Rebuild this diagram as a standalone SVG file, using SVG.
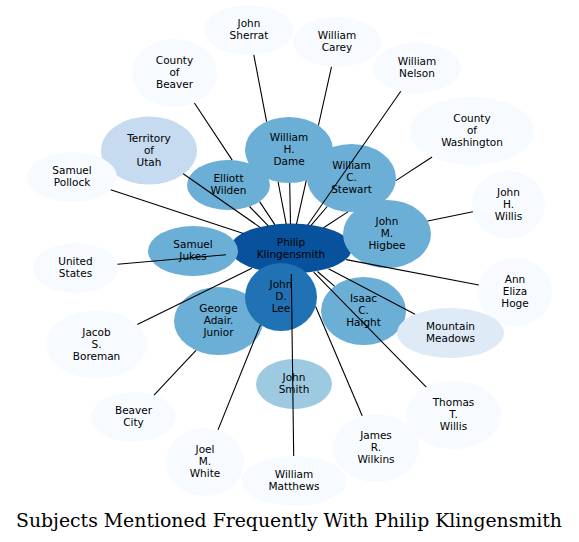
<svg xmlns="http://www.w3.org/2000/svg" width="579" height="542" viewBox="0 0 579 542">
<style>
text{font-family:"DejaVu Sans","Liberation Sans",sans-serif;font-size:10.5px;fill:#000;text-anchor:middle}
.c0{fill:#f7fbff}.c1{fill:#deebf7}.c2{fill:#c6dbef}.c3{fill:#9ecae1}.c4{fill:#6baed6}.c5{fill:#2171b5}.c6{fill:#08519c}
#edges path{fill:none;stroke:#000;stroke-width:1.1}
.title{font-family:"DejaVu Serif","Liberation Serif",serif;font-size:18.8px;text-anchor:start}
</style>
<rect width="579" height="542" fill="#fff"/>
<g id="nodes">
<g id="philip"><ellipse class="c6" cx="291" cy="248.5" rx="61" ry="25"/><text><tspan x="291" y="245.5">Philip</tspan><tspan x="291" y="257.5">Klingensmith</tspan></text></g>
<g id="john-sherrat"><ellipse class="c0" cx="249" cy="30" rx="45" ry="25"/><text><tspan x="249" y="27">John</tspan><tspan x="249" y="39">Sherrat</tspan></text></g>
<g id="william-carey"><ellipse class="c0" cx="337" cy="42" rx="44" ry="25"/><text><tspan x="337" y="39">William</tspan><tspan x="337" y="51">Carey</tspan></text></g>
<g id="william-nelson"><ellipse class="c0" cx="417" cy="68" rx="44" ry="25"/><text><tspan x="417" y="65">William</tspan><tspan x="417" y="77">Nelson</tspan></text></g>
<g id="county-of-beaver"><ellipse class="c0" cx="174.5" cy="73" rx="42.5" ry="34"/><text><tspan x="174.5" y="64">County</tspan><tspan x="174.5" y="76">of</tspan><tspan x="174.5" y="88">Beaver</tspan></text></g>
<g id="county-of-washington"><ellipse class="c0" cx="472" cy="131" rx="62" ry="34"/><text><tspan x="472" y="122">County</tspan><tspan x="472" y="134">of</tspan><tspan x="472" y="146">Washington</tspan></text></g>
<g id="territory-of-utah"><ellipse class="c2" cx="149" cy="150.5" rx="48" ry="34"/><text><tspan x="149" y="141.5">Territory</tspan><tspan x="149" y="153.5">of</tspan><tspan x="149" y="165.5">Utah</tspan></text></g>
<g id="samuel-pollock"><ellipse class="c0" cx="72" cy="177" rx="45" ry="25"/><text><tspan x="72" y="174">Samuel</tspan><tspan x="72" y="186">Pollock</tspan></text></g>
<g id="william-h-dame"><ellipse class="c4" cx="289" cy="150" rx="44" ry="33"/><text><tspan x="289" y="141">William</tspan><tspan x="289" y="153">H.</tspan><tspan x="289" y="165">Dame</tspan></text></g>
<g id="elliott-wilden"><ellipse class="c4" cx="228.5" cy="185" rx="41.5" ry="25"/><text><tspan x="228.5" y="182">Elliott</tspan><tspan x="228.5" y="194">Wilden</tspan></text></g>
<g id="william-c-stewart"><ellipse class="c4" cx="351.5" cy="178" rx="44.5" ry="34"/><text><tspan x="351.5" y="169">William</tspan><tspan x="351.5" y="181">C.</tspan><tspan x="351.5" y="193">Stewart</tspan></text></g>
<g id="john-m-higbee"><ellipse class="c4" cx="387" cy="234" rx="44" ry="34"/><text><tspan x="387" y="225">John</tspan><tspan x="387" y="237">M.</tspan><tspan x="387" y="249">Higbee</tspan></text></g>
<g id="john-h-willis"><ellipse class="c0" cx="508.5" cy="204.5" rx="36.5" ry="34"/><text><tspan x="508.5" y="195.5">John</tspan><tspan x="508.5" y="207.5">H.</tspan><tspan x="508.5" y="219.5">Willis</tspan></text></g>
<g id="samuel-jukes"><ellipse class="c4" cx="193" cy="251" rx="45" ry="25"/><text><tspan x="193" y="248">Samuel</tspan><tspan x="193" y="260">Jukes</tspan></text></g>
<g id="united-states"><ellipse class="c0" cx="75.5" cy="268" rx="42.5" ry="25"/><text><tspan x="75.5" y="265">United</tspan><tspan x="75.5" y="277">States</tspan></text></g>
<g id="ann-eliza-hoge"><ellipse class="c0" cx="515" cy="292" rx="37" ry="34"/><text><tspan x="515" y="283">Ann</tspan><tspan x="515" y="295">Eliza</tspan><tspan x="515" y="307">Hoge</tspan></text></g>
<g id="george-adair-junior"><ellipse class="c4" cx="218.5" cy="321" rx="44.5" ry="34"/><text><tspan x="218.5" y="312">George</tspan><tspan x="218.5" y="324">Adair.</tspan><tspan x="218.5" y="336">Junior</tspan></text></g>
<g id="john-d-lee"><ellipse class="c5" cx="281" cy="297" rx="36" ry="34"/><text><tspan x="281" y="288">John</tspan><tspan x="281" y="300">D.</tspan><tspan x="281" y="312">Lee</tspan></text></g>
<g id="isaac-c-haight"><ellipse class="c4" cx="363.5" cy="311" rx="42.5" ry="34"/><text><tspan x="363.5" y="302">Isaac</tspan><tspan x="363.5" y="314">C.</tspan><tspan x="363.5" y="326">Haight</tspan></text></g>
<g id="mountain-meadows"><ellipse class="c1" cx="450.5" cy="333" rx="53.5" ry="25"/><text><tspan x="450.5" y="330">Mountain</tspan><tspan x="450.5" y="342">Meadows</tspan></text></g>
<g id="jacob-s-boreman"><ellipse class="c0" cx="96.5" cy="344.5" rx="50.5" ry="34"/><text><tspan x="96.5" y="335.5">Jacob</tspan><tspan x="96.5" y="347.5">S.</tspan><tspan x="96.5" y="359.5">Boreman</tspan></text></g>
<g id="john-smith"><ellipse class="c3" cx="294" cy="384" rx="38" ry="25"/><text><tspan x="294" y="381">John</tspan><tspan x="294" y="393">Smith</tspan></text></g>
<g id="beaver-city"><ellipse class="c0" cx="133.5" cy="417" rx="42.5" ry="25"/><text><tspan x="133.5" y="414">Beaver</tspan><tspan x="133.5" y="426">City</tspan></text></g>
<g id="joel-m-white"><ellipse class="c0" cx="205" cy="462" rx="39" ry="34"/><text><tspan x="205" y="453">Joel</tspan><tspan x="205" y="465">M.</tspan><tspan x="205" y="477">White</tspan></text></g>
<g id="william-matthews"><ellipse class="c0" cx="294" cy="481" rx="53" ry="25"/><text><tspan x="294" y="478">William</tspan><tspan x="294" y="490">Matthews</tspan></text></g>
<g id="james-r-wilkins"><ellipse class="c0" cx="376" cy="448" rx="43" ry="34"/><text><tspan x="376" y="439">James</tspan><tspan x="376" y="451">R.</tspan><tspan x="376" y="463">Wilkins</tspan></text></g>
<g id="thomas-t-willis"><ellipse class="c0" cx="453.5" cy="415" rx="47.5" ry="34"/><text><tspan x="453.5" y="406">Thomas</tspan><tspan x="453.5" y="418">T.</tspan><tspan x="453.5" y="430">Willis</tspan></text></g>
</g>
<g id="edges">
<path d="M286.2,224.1L278.1,182.0M266.6,121.6L253.8,54.9"/>
<path d="M296.5,224.1L306.3,180.4M318.4,125.5L331.5,66.8"/>
<path d="M307.7,225.0L400.8,91.2"/>
<path d="M323.5,227.8L347.9,211.9M395.9,180.6L432.1,157.0"/>
<path d="M311.1,225.4L327.2,206.5"/>
<path d="M290.5,224.0L289.7,183.0"/>
<path d="M268.3,225.8L249.5,206.5"/>
<path d="M275.0,224.9L259.6,201.6M232.2,160.1L194.4,103.0"/>
<path d="M260.1,227.4L183.2,173.8"/>
<path d="M243.4,233.4L110.7,189.7"/>
<path d="M226,254.8L117.5,264.3"/>
<path d="M251.9,268.2L137.3,324.5"/>
<path d="M196.0,350.3L154.0,395.1"/>
<path d="M260.4,324.9L218.0,429.9"/>
<path d="M291.3,274.0L293.7,456.0"/>
<path d="M315.6,306.5L362.2,415.8"/>
<path d="M313.7,272.2L426.3,387.2"/>
<path d="M317.4,271.5L334.5,286.2"/>
<path d="M328.5,268.7L415,314.3"/>
<path d="M346.2,259.6L478.8,285.0"/>
<path d="M427.7,221.0L472.9,211.8"/>
</g>
<text class="title" x="16" y="527" textLength="546" lengthAdjust="spacingAndGlyphs">Subjects Mentioned Frequently With Philip Klingensmith</text>
</svg>
